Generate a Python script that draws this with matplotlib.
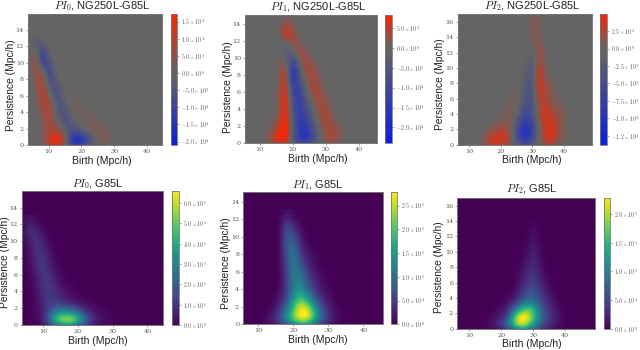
import numpy as np
import matplotlib
matplotlib.use("Agg")
import matplotlib.pyplot as plt
from matplotlib.colors import LinearSegmentedColormap, Normalize

plt.rcParams['font.family'] = ['Liberation Sans', 'DejaVu Sans']
plt.rcParams['mathtext.fontset'] = 'cm'

# Rows run upward from persistence -0.4 in steps of 1; columns run in birth steps of 2.
pi0_diff_birth_start = 4
pi0_diff = [
 [0,0,0,2,7,3,-1,-7,-5,-2,0,1,0,0,0,0],
 [0,0,2,12,20,14,-6,-21,-17,-10,-2,4,3,1,0,0],
 [0,0,2,7,9,4,-5,-7,-5,0,3,4,2,0,0,0],
 [0,0,2,8,4,-3,-7,-2,1,3,3,1,0,0,0,0],
 [0,0,3,10,1,-7,-4,1,2,2,1,0,0,0,0,0],
 [0,0,6,11,-2,-7,-1,2,2,0,0,0,0,0,0,0],
 [0,0,10,6,-7,-3,1,2,1,0,0,0,0,0,0,0],
 [0,1,11,1,-8,-1,1,1,0,0,0,0,0,0,0,0],
 [0,2,11,-6,-6,0,1,0,0,0,0,0,0,0,0,0],
 [0,5,9,-12,-1,1,1,0,0,0,0,0,0,0,0,0],
 [0,8,-6,-9,0,1,0,0,0,0,0,0,0,0,0,0],
 [0,8,-15,-3,1,0,0,0,0,0,0,0,0,0,0,0],
 [0,1,-9,0,0,0,0,0,0,0,0,0,0,0,0,0],
 [0,-5,-1,0,0,0,0,0,0,0,0,0,0,0,0,0],
 [0,0,0,0,0,0,0,0,0,0,0,0,0,0,0,0],
]
pi1_diff_birth_start = 8
pi1_diff = [
 [0,0,0,1,3,4,-2,-5,-6,-3,-1,1,1,0,0],
 [0,0,1,5,9,9,-6,-15,-19,-10,-2,3,4,2,0],
 [0,0,0,2,6,10,-3,-15,-16,-8,0,3,4,2,0],
 [0,0,0,0,4,10,-5,-15,-14,-4,2,4,2,0,0],
 [0,0,0,0,2,10,-7,-14,-10,-1,3,4,1,0,0],
 [0,0,0,0,2,10,-8,-14,-6,0,4,3,0,0,0],
 [0,0,0,0,2,9,-10,-15,-2,3,4,1,0,0,0],
 [0,0,0,0,1,9,-14,-12,0,4,3,0,0,0,0],
 [0,0,0,0,1,8,-19,-6,2,4,1,0,0,0,0],
 [0,0,0,0,1,7,-21,-2,4,3,1,0,0,0,0],
 [0,0,0,0,1,1,-14,2,4,1,0,0,0,0,0],
 [0,0,0,0,1,-6,-1,4,2,0,0,0,0,0,0],
 [0,0,0,0,0,-3,3,2,0,0,0,0,0,0,0],
 [0,0,0,0,0,7,4,0,0,0,0,0,0,0,0],
 [0,0,0,0,0,6,1,0,0,0,0,0,0,0,0],
 [0,0,0,0,0,1.5,0,0,0,0,0,0,0,0,0],
 [0,0,0,0,0,0,0,0,0,0,0,0,0,0,0],
]
pi2_diff_birth_start = 12
pi2_diff = [
 [0,0,1,2,1,1,0,-2,-3,-2,0,1,1,0,0,0,0],
 [0,1,2,5,4,3,0,-6,-8,-5,0,2,4,1,1,0,0],
 [0,0,1,2,3,3,0,-8,-12,-8,0,3,5,2,1,0,0],
 [0,0,0,1,1,1.5,0,-6,-9,-7,0,3,4,2,1,0,0],
 [0,0,0,0,0,1,1,-3,-7,-5,1,4,3,2,1,0,0],
 [0,0,0,0,0,1,1,-1,-6,-4,1,4,2,1,1,0,0],
 [0,0,0,0,0,0,1,0,-5,-4,2,3,1,1,0,0,0],
 [0,0,0,0,0,0,1,0.5,-4,-4,3,3,1,0.5,0,0,0],
 [0,0,0,0,0,0,0,0,-3,-4,4.5,2,1,0,0,0,0],
 [0,0,0,0,0,0,0,0.5,-2,-4,4.5,1,0.5,0,0,0,0],
 [0,0,0,0,0,0,0,0,-1,-4,4.5,1,0,0,0,0,0],
 [0,0,0,0,0,0,0,0,-0.5,-3.5,3,0.5,0,0,0,0,0],
 [0,0,0,0,0,0,0,0,0.5,-2.5,2.5,0.5,0,0,0,0,0],
 [0,0,0,0,0,0,0,0,1,-1,2,0.5,0,0,0,0,0],
 [0,0,0,0,0,0,0,0,0,0.5,1.5,0,0,0,0,0,0],
 [0,0,0,0,0,0,0,0,0,1,1,0,0,0,0,0,0],
 [0,0,0,0,0,0,0,0,0,1,1,0,0,0,0,0,0],
 [0,0,0,0,0,0,0,0,0,0.8,0.5,0,0,0,0,0,0],
]
pi0_base_birth_start = 4
pi0_base = [
 [0,0,0,1,3,6,10,9,6,3,1,0,0,0,0,0],
 [0,0,1,6,30,60,68,68,50,25,10,4,2,1,0,0],
 [0,1,2,6,18,28,30,28,18,9,4,2,1,0,0,0],
 [0,0,2,7,12,11,8,5,3,2,1,0,0,0,0,0],
 [0,0,3,9,12,8,4,2,1,0,0,0,0,0,0,0],
 [0,0,4,10,11,5,2,1,0,0,0,0,0,0,0,0],
 [0,1,5,11,9,3,1,0,0,0,0,0,0,0,0,0],
 [0,1,7,12,6,2,0,0,0,0,0,0,0,0,0,0],
 [0,2,9,11,4,1,0,0,0,0,0,0,0,0,0,0],
 [0,2,10,9,2,0,0,0,0,0,0,0,0,0,0,0],
 [0,4,11,6,1,0,0,0,0,0,0,0,0,0,0,0],
 [1,8,9,3,0,0,0,0,0,0,0,0,0,0,0,0],
 [1,9,4,1,0,0,0,0,0,0,0,0,0,0,0,0],
 [1,3,1,0,0,0,0,0,0,0,0,0,0,0,0,0],
]
pi1_base_birth_start = 10
pi1_base = [
 [0,0,0,1,3,5,8,7,3,1,0,0,0,0],
 [0,1,3,7,16,24,30,28,18,9,4,1,0,0],
 [0,0,1,4,11,20,30,28,16,7,3,1,0,0],
 [0,0,0,2,7,17,23,17,9,4,1,0,0,0],
 [0,0,0,1,5,12,16,10,5,2,1,0,0,0],
 [0,0,0,0,5,12,13,7,3,1,0,0,0,0],
 [0,0,0,0,5,12,11,5,2,1,0,0,0,0],
 [0,0,0,0,6,12,8,3,1,0,0,0,0,0],
 [0,0,0,0,7,12,5,2,1,0,0,0,0,0],
 [0,0,0,0,8,11,3,1,0,0,0,0,0,0],
 [0,0,0,0,9,8,2,0,0,0,0,0,0,0],
 [0,0,0,0,8,5,1,0,0,0,0,0,0,0],
 [0,0,0,0,5,2,0,0,0,0,0,0,0,0],
 [0,0,0,0,1.5,0,0,0,0,0,0,0,0,0],
]
pi2_base_birth_start = 14
pi2_base = [
 [0,0,0,1,2,3,5,5,3,2,1,0,0,0,0],
 [0,1,2,4,9,17,24,20,13,7,4,2,1,0,0],
 [0,0,1,2,5,16,25,24,17,10,5,3,1,0,0],
 [0,0,0,1,2,7,13,18,15,8,4,2,1,0,0],
 [0,0,0,0,1,2,5,8,8,5,3,1,0,0,0],
 [0,0,0,0,0,1,3,6,6,4,2,1,0,0,0],
 [0,0,0,0,0,0,2,4,5,3,1,0,0,0,0],
 [0,0,0,0,0,0,1,3,4,2,1,0,0,0,0],
 [0,0,0,0,0,0,1,2,3,1.5,0,0,0,0,0],
 [0,0,0,0,0,0,0,1.5,3,1,0,0,0,0,0],
 [0,0,0,0,0,0,0,1,2.5,0.5,0,0,0,0,0],
 [0,0,0,0,0,0,0,0.5,2,0.5,0,0,0,0,0],
 [0,0,0,0,0,0,0,0,1.5,0,0,0,0,0,0],
 [0,0,0,0,0,0,0,0,1,0,0,0,0,0,0],
 [0,0,0,0,0,0,0,0,0.5,0,0,0,0,0,0],
 [0,0,0,0,0,0,0,0,0,0,0,0,0,0,0],
]

titles = ["$PI_0$, NG250L-G85L", "$PI_1$, NG250L-G85L", "$PI_2$, NG250L-G85L",
          "$PI_0$, G85L", "$PI_1$, G85L", "$PI_2$, G85L"]
birth_ticks = [10, 20, 30, 40]
pers_ticks_0 = [0, 2, 4, 6, 8, 10, 12, 14]
pers_ticks_2 = [0, 2, 4, 6, 8, 10, 12, 14, 16]

cb_ticks_0 = [1.5e4, 1e4, 5e3, 0, -5e3, -1e4, -1.5e4, -2e4]
cb_labels_0 = [r"$1.5\times10^{4}$", r"$1.0\times10^{4}$", r"$5.0\times10^{3}$", r"$0.0\times10^{0}$",
               r"$-5.0\times10^{3}$", r"$-1.0\times10^{4}$", r"$-1.5\times10^{4}$", r"$-2.0\times10^{4}$"]
cb_ticks_1 = [5e3, 0, -5e3, -1e4, -1.5e4, -2e4]
cb_labels_1 = [r"$5.0\times10^{3}$", r"$0.0\times10^{0}$", r"$-5.0\times10^{3}$",
               r"$-1.0\times10^{4}$", r"$-1.5\times10^{4}$", r"$-2.0\times10^{4}$"]
cb_ticks_2 = [2.5e3, 0, -2.5e3, -5e3, -7.5e3, -1e4, -1.25e4]
cb_labels_2 = [r"$2.5\times10^{3}$", r"$0.0\times10^{0}$", r"$-2.5\times10^{3}$", r"$-5.0\times10^{3}$",
               r"$-7.5\times10^{3}$", r"$-1.0\times10^{4}$", r"$-1.2\times10^{4}$"]
cb_ticks_3 = [6e5, 5e5, 4e5, 3e5, 2e5, 1e5, 0]
cb_labels_3 = [r"$6.0\times10^{5}$", r"$5.0\times10^{5}$", r"$4.0\times10^{5}$", r"$3.0\times10^{5}$",
               r"$2.0\times10^{5}$", r"$1.0\times10^{5}$", r"$0.0\times10^{0}$"]
cb_ticks_4 = [2.5e5, 2e5, 1.5e5, 1e5, 5e4, 0]
cb_labels_4 = [r"$2.5\times10^{5}$", r"$2.0\times10^{5}$", r"$1.5\times10^{5}$",
               r"$1.0\times10^{5}$", r"$5.0\times10^{4}$", r"$0.0\times10^{0}$"]
cb_ticks_5 = [2e5, 1.5e5, 1e5, 5e4, 0]
cb_labels_5 = [r"$2.0\times10^{5}$", r"$1.5\times10^{5}$", r"$1.0\times10^{5}$",
               r"$5.0\times10^{4}$", r"$0.0\times10^{0}$"]

W, H = 640, 350
fig = plt.figure(figsize=(W / 100, H / 100), dpi=100, facecolor='white')

def pax(x0, y0, x1, y1):
    return fig.add_axes([x0 / W, 1 - y1 / H, (x1 - x0) / W, (y1 - y0) / H])

GRAY = '#646464'
EDGE = '#777777'
TICKC = '#555555'
DARK = '#222222'

def panel(box, cbox, xlim, ylim, grid, bstart, scale, vmin, vmax, diverging, title,
          yticks, cticks, clabels, label_cx, title_base, xlab_cy, ylab_cx, ylab_cy):
    ax = pax(*box)
    arr = np.array(grid, dtype=float) * scale
    nrow, ncol = arr.shape
    extent = [bstart - 1, bstart - 1 + 2 * ncol, -0.9, -0.9 + nrow]
    if diverging:
        z = -vmin / (vmax - vmin)
        cmap = LinearSegmentedColormap.from_list(
            'bgr', [(0, '#0a1ee0'), (z * 0.97, GRAY), (z + (1 - z) * 0.03, GRAY), (1, '#ff2200')], N=512)
    else:
        cmap = plt.get_cmap('viridis')
    norm = Normalize(vmin, vmax)
    ax.set_facecolor(cmap(norm(0.0)))
    im = ax.imshow(arr, origin='lower', extent=extent, aspect='auto', cmap=cmap, norm=norm,
                   interpolation='bicubic', interpolation_stage='data')
    ax.set_xlim(*xlim)
    ax.set_ylim(*ylim)
    ax.set_xticks(birth_ticks)
    ax.set_yticks(yticks)
    ax.tick_params(length=1.5, width=0.4, pad=1.5, labelsize=4.6, colors=TICKC)
    for lab in ax.get_xticklabels() + ax.get_yticklabels():
        lab.set_fontfamily('DejaVu Serif')
    for s in ax.spines.values():
        s.set_color(EDGE)
        s.set_linewidth(0.7)
    fig.text(label_cx / W, 1 - xlab_cy / H, "Birth (Mpc/h)", fontsize=7.5, ha='center', va='center', color=DARK)
    fig.text(ylab_cx / W, 1 - ylab_cy / H, "Persistence (Mpc/h)", fontsize=7.4, rotation=90,
             ha='center', va='center', color=DARK)
    fig.text(label_cx / W, 1 - title_base / H, title, fontsize=8, ha='center', va='baseline', color=DARK)
    cax = pax(*cbox)
    cb = fig.colorbar(im, cax=cax)
    cb.set_ticks(cticks)
    cb.set_ticklabels(clabels)
    cb.ax.tick_params(length=1.5, width=0.4, pad=1.5, labelsize=4.2, colors=TICKC)
    cb.outline.set_edgecolor(EDGE)
    cb.outline.set_linewidth(0.6)

panel((28, 14, 162, 145), (171, 14, 177, 145), (3.7, 44.6), (0, 15.95), pi0_diff, pi0_diff_birth_start, 1e3,
      -2.1e4, 1.72e4, True, titles[0], pers_ticks_0, cb_ticks_0, cb_labels_0, 102, 9.5, 160.7, 11, 85)
panel((245, 15, 377, 143), (384.5, 15, 391.5, 143), (5.6, 45.6), (0, 15.06), pi1_diff, pi1_diff_birth_start, 1e3,
      -2.39e4, 8.2e3, True, titles[1], pers_ticks_0, cb_ticks_1, cb_labels_1, 318, 10, 158.7, 228, 87)
panel((457.7, 13.7, 592, 144.7), (600.3, 13.7, 607, 144.7), (6.3, 49), (0, 17.09), pi2_diff, pi2_diff_birth_start, 1e3,
      -1.38e4, 5e3, True, titles[2], pers_ticks_2, cb_ticks_2, cb_labels_2, 532, 8.7, 160.3, 439.7, 84)
panel((21.7, 191, 163.3, 325), (172, 191, 178.7, 325), (3.75, 44.6), (0, 15.99), pi0_base, pi0_base_birth_start, 1e4,
      0, 6.6e5, False, titles[3], pers_ticks_0, cb_ticks_3, cb_labels_3, 98, 187, 341, 5, 262)
panel((243.3, 192.3, 382.7, 324.3), (390.7, 192.3, 397.3, 324.3), (5.7, 45.5), (0, 15.06), pi1_base, pi1_base_birth_start, 1e4,
      0, 2.78e5, False, titles[4], pers_ticks_0, cb_ticks_4, cb_labels_4, 318, 187.7, 340, 226, 263)
panel((457.3, 197.7, 595, 328.7), (604, 197.7, 610.3, 328.7), (6.25, 49.3), (0, 17.04), pi2_base, pi2_base_birth_start, 1e4,
      0, 2.29e5, False, titles[5], pers_ticks_2, cb_ticks_5, cb_labels_5, 532, 192.3, 344, 439, 267)

fig.savefig('out.png', dpi=100)
